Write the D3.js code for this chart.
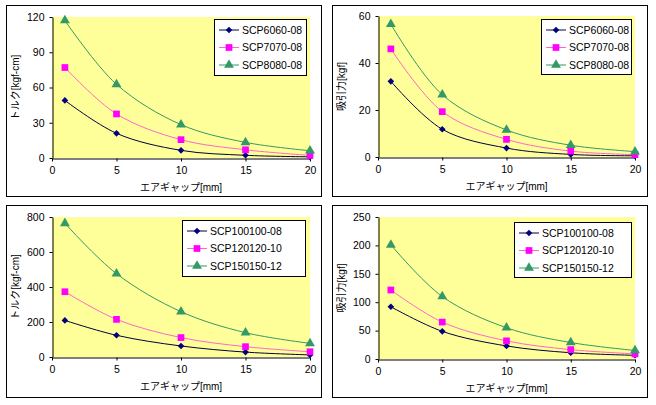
<!DOCTYPE html>
<html><head><meta charset="utf-8">
<script src="https://cdn.jsdelivr.net/npm/d3@7"></script>
<style>
body{margin:0;background:#fff;}
svg{display:block;}
text{font-family:"Liberation Sans","Noto Sans CJK JP",sans-serif;}
</style></head>
<body><svg id="c" width="656" height="405"></svg>
<script>
const gaps = [1, 5, 10, 15, 20];
const xTicks = [0, 5, 10, 15, 20];

const namesSmall = ["SCP6060-08", "SCP7070-08", "SCP8080-08"];
const namesLarge = ["SCP100100-08", "SCP120120-10", "SCP150150-12"];

const torqueSmall = [
  [49, 21, 6.5, 2.3, 1],
  [77, 37.5, 15.6, 7, 2.2],
  [117, 62.7, 28.4, 13.3, 6.2]
];
const forceSmall = [
  [32.2, 11.8, 3.8, 1.1, 0.5],
  [46, 19.3, 7.5, 2.5, 1],
  [56.5, 26.5, 11.5, 5, 2.3]
];
const torqueLarge = [
  [209, 124, 63, 28, 12],
  [373, 215, 111, 59, 30],
  [764, 476, 259, 139, 78]
];
const forceLarge = [
  [92, 48.7, 23, 11, 6.5],
  [121.5, 65, 32, 16.5, 9],
  [201, 110, 55, 29, 15]
];

const yTicksTS = [0, 30, 60, 90, 120];
const yTicksFS = [0, 20, 40, 60];
const yTicksTL = [0, 200, 400, 600, 800];
const yTicksFL = [0, 50, 100, 150, 200, 250];

const xTitle = "エアギャップ[mm]";
const yTitleT = "トルク[kgf-cm]";
const yTitleF = "吸引力[kgf]";

const colors = ["#000080", "#FF00FF", "#339966"];
const lineColors = ["#000040", "#FF66CC", "#339966"];
const shapes = [d3.symbolSquare, d3.symbolSquare, d3.symbolTriangle];
const shapeRot = [45, 0, 0];
const shapeSizes = [22, 45, 42];

const svg = d3.select("#c");

const panels = [
  {fx: 6, fy: 5, fw: 315, fh: 191, px: 52, py: 17, pw: 258, ph: 141, data: torqueSmall, names: namesSmall, yTicks: yTicksTS, yTitle: yTitleT, leg: [214, 19, 92, 56]},
  {fx: 332, fy: 5, fw: 315, fh: 191, px: 378, py: 16, pw: 257, ph: 141, data: forceSmall, names: namesSmall, yTicks: yTicksFS, yTitle: yTitleF, leg: [541, 19, 90, 55]},
  {fx: 6, fy: 205, fw: 315, fh: 192, px: 52, py: 217, pw: 258, ph: 140, data: torqueLarge, names: namesLarge, yTicks: yTicksTL, yTitle: yTitleT, leg: [182, 220, 123, 56]},
  {fx: 332, fy: 205, fw: 315, fh: 192, px: 378, py: 217, pw: 257, ph: 142, data: forceLarge, names: namesLarge, yTicks: yTicksFL, yTitle: yTitleF, leg: [514, 222, 117, 55]}
];

panels.forEach(p => {
  const g = svg.append("g");
  g.append("rect").attr("x", p.fx + 0.5).attr("y", p.fy + 0.5).attr("width", p.fw).attr("height", p.fh)
    .attr("fill", "#fff").attr("stroke", "#000").attr("stroke-width", 1);

  const x = d3.scaleLinear().domain([0, 20]).range([p.px, p.px + p.pw]);
  const yMax = p.yTicks[p.yTicks.length - 1];
  const y = d3.scaleLinear().domain([0, yMax]).range([p.py + p.ph, p.py]);

  g.append("rect").attr("x", p.px).attr("y", p.py).attr("width", p.pw).attr("height", p.ph)
    .attr("fill", "#FFFF99");

  const xa = g.append("g").attr("transform", `translate(0,${p.py + p.ph + 0.5})`)
    .call(d3.axisBottom(x).tickValues(xTicks).tickSize(3).tickSizeOuter(0).tickFormat(d3.format("d")));
  const ya = g.append("g").attr("transform", `translate(${p.px + 0.5},0)`)
    .call(d3.axisLeft(y).tickValues(p.yTicks).tickSize(3).tickSizeOuter(0).tickFormat(d3.format("d")));
  [xa, ya].forEach(a => {
    a.select(".domain").attr("stroke", "#000");
    a.selectAll(".tick line").attr("stroke", "#000");
    a.selectAll("text").attr("font-size", 10.5).attr("fill", "#000")
      .attr("font-family", "'Liberation Sans',sans-serif");
  });
  xa.selectAll("text").attr("dy", "0.9em");
  ya.selectAll("text").attr("dx", "-2");

  g.append("text").attr("x", p.px + p.pw / 2).attr("y", p.py + p.ph + 33)
    .attr("text-anchor", "middle").attr("font-size", 10)
    .attr("font-family", "'Noto Sans CJK JP',sans-serif").text(xTitle);
  g.append("text").attr("transform", `translate(${p.fx + 13},${p.py + p.ph / 2}) rotate(-90)`)
    .attr("text-anchor", "middle").attr("font-size", 10)
    .attr("font-family", "'Noto Sans CJK JP',sans-serif").text(p.yTitle);

  const line = d3.line().x((d, i) => x(gaps[i])).y(d => y(d)).curve(d3.curveCatmullRom.alpha(0.5));
  p.data.forEach((ser, si) => {
    g.append("path").attr("d", line(ser)).attr("fill", "none")
      .attr("stroke", lineColors[si]).attr("stroke-width", 1);
  });
  p.data.forEach((ser, si) => {
    g.selectAll(null).data(ser).enter().append("path")
      .attr("transform", (d, i) => `translate(${x(gaps[i])},${y(d)}) rotate(${shapeRot[si]})`)
      .attr("d", d3.symbol().type(shapes[si]).size(shapeSizes[si]))
      .attr("fill", colors[si]);
  });

  const [lx, ly, lw, lh] = p.leg;
  g.append("rect").attr("x", lx + 0.5).attr("y", ly + 0.5).attr("width", lw).attr("height", lh)
    .attr("fill", "#fff").attr("stroke", "#000");
  p.names.forEach((nm, si) => {
    const ry = ly + 11 + si * 17.5;
    g.append("line").attr("x1", lx + 5).attr("x2", lx + 25).attr("y1", ry).attr("y2", ry)
      .attr("stroke", lineColors[si]);
    g.append("path").attr("transform", `translate(${lx + 15},${ry}) rotate(${shapeRot[si]})`)
      .attr("d", d3.symbol().type(shapes[si]).size(shapeSizes[si])).attr("fill", colors[si]);
    g.append("text").attr("x", lx + 28).attr("y", ry).attr("dy", "0.35em")
      .attr("font-size", 10.5).text(nm);
  });
});
</script></body></html>
